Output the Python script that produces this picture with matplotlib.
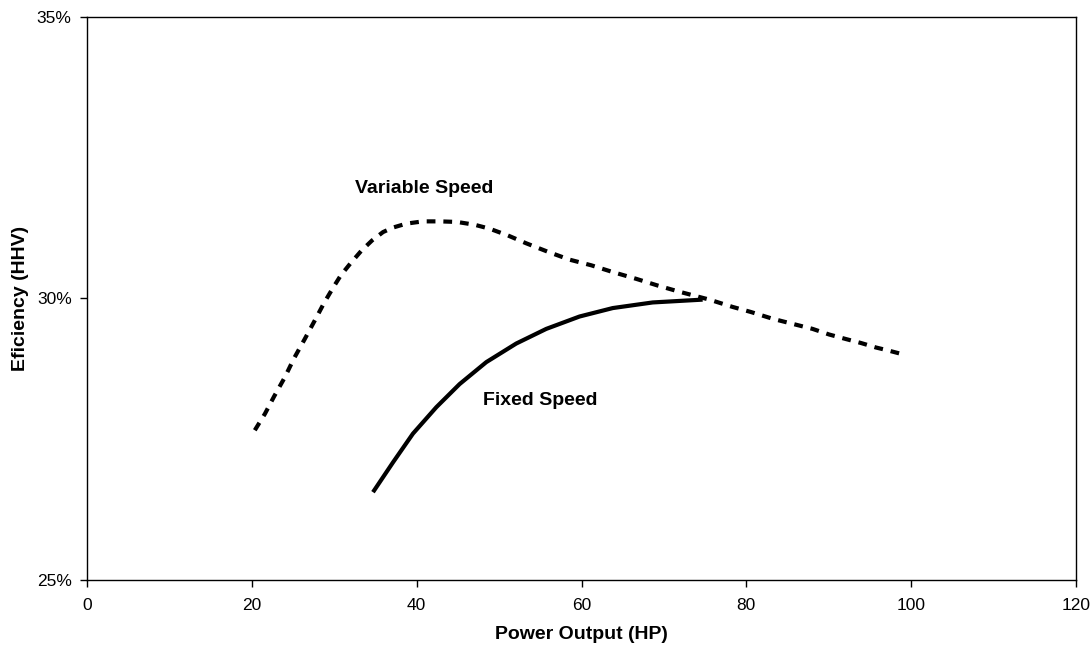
import matplotlib
matplotlib.use("Agg")
import matplotlib.pyplot as plt
from matplotlib.ticker import FuncFormatter

plt.rcParams['font.family'] = ['Liberation Sans', 'DejaVu Sans']

# Variable speed curve (HP, efficiency %)
var_hp = [20.36, 21.58, 22.70, 24.00, 25.13, 26.42, 27.64, 28.76, 29.85, 30.79,
          32.00, 33.30, 34.58, 35.92, 37.13, 38.75, 40.76, 42.79, 44.88, 47.03,
          48.85, 51.07, 53.30, 55.92, 58.55, 61.18, 63.79, 66.62, 69.25, 71.88,
          75.52, 78.34, 80.56, 83.19, 85.61, 88.04, 90.06, 92.08, 93.90, 95.72,
          97.13, 98.95]
var_eff = [27.66, 27.95, 28.26, 28.60, 28.94, 29.28, 29.61, 29.92, 30.19, 30.41,
           30.63, 30.85, 31.03, 31.18, 31.26, 31.33, 31.37, 31.37, 31.36, 31.31,
           31.24, 31.12, 30.98, 30.83, 30.69, 30.59, 30.47, 30.35, 30.23, 30.12,
           29.98, 29.85, 29.76, 29.64, 29.55, 29.46, 29.36, 29.28, 29.21, 29.13,
           29.08, 29.01]

# Fixed speed curve
fix_hp = [34.70, 37.13, 39.55, 42.39, 45.21, 48.45, 52.08, 55.72, 59.76, 63.79,
          68.64, 74.70]
fix_eff = [26.56, 27.09, 27.60, 28.07, 28.48, 28.87, 29.20, 29.46, 29.68, 29.83,
           29.93, 29.98]

x_ticks = [0, 20, 40, 60, 80, 100, 120]
y_ticks = [25, 30, 35]

fig = plt.figure(figsize=(10.92, 6.45), dpi=100)
ax = fig.add_axes([87/1092, 1 - 580/645, (1076-87)/1092, (580-17)/645])

ax.plot(var_hp, var_eff, color='black', linewidth=3, linestyle=(0, (2.1, 1.9)),
        dash_capstyle='butt', solid_joinstyle='round')
ax.plot(fix_hp, fix_eff, color='black', linewidth=3, solid_capstyle='butt',
        solid_joinstyle='round')

ax.set_xlim(0, 120)
ax.set_ylim(25, 35)
ax.set_xticks(x_ticks)
ax.set_yticks(y_ticks)
ax.yaxis.set_major_formatter(FuncFormatter(lambda v, p: f"{v:.0f}%"))
ax.tick_params(direction='out', length=5, width=1, labelsize=12.5)
ax.tick_params(axis='x', pad=8)
ax.tick_params(axis='y', pad=6)
for s in ax.spines.values():
    s.set_linewidth(1)
    s.set_color('black')

ax.set_xlabel('Power Output (HP)', fontsize=14, fontweight='bold')
ax.set_ylabel('Eficiency (HHV)', fontsize=14, fontweight='bold')
ax.xaxis.set_label_coords(0.5, -(626 - 580) / 563)
ax.yaxis.set_label_coords(-(87 - 29) / 989, 0.5)

ax.text(32.5, 31.95, 'Variable Speed', fontsize=14, fontweight='bold',
        ha='left', va='center')
ax.text(48.0, 28.19, 'Fixed Speed', fontsize=14, fontweight='bold',
        ha='left', va='center')

fig.savefig('out.png', dpi=100)
